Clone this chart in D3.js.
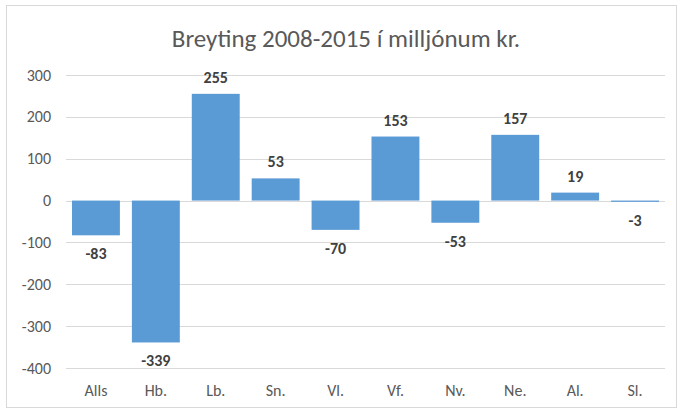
<!DOCTYPE html>
<html>
<head>
<meta charset="utf-8">
<script src="https://cdn.jsdelivr.net/npm/d3@7"></script>
<style>
  body { margin: 0; background: #fff; }
  svg { display: block; font-family: Carlito, "Open Sans", "Liberation Sans", sans-serif; }
</style>
</head>
<body>
<svg id="chart"></svg>
<script>
var categories = ['Alls', 'Hb.', 'Lb.', 'Sn.', 'Vl.', 'Vf.', 'Nv.', 'Ne.', 'Al.', 'Sl.'];
var values = [-83, -339, 255, 53, -70, 153, -53, 157, 19, -3];
var yTicks = [-400, -300, -200, -100, 0, 100, 200, 300];
var title = 'Breyting 2008-2015 í milljónum kr.';

var width = 682, height = 410;
var plotLeft = 66, plotRight = 665, plotTop = 75, plotBottom = 368;

var svg = d3.select('#chart').attr('width', width).attr('height', height);

// outer frame
svg.append('rect')
  .attr('x', 6.5).attr('y', 5.5)
  .attr('width', 670).attr('height', 402)
  .attr('fill', '#fff').attr('stroke', '#d9d9d9');

svg.append('text')
  .attr('x', 346).attr('y', 47)
  .attr('text-anchor', 'middle')
  .attr('font-size', 25)
  .attr('fill', '#595959')
  .text(title);

var x = d3.scaleBand().domain(categories).range([plotLeft, plotRight]).paddingInner(0.2).paddingOuter(0.1);
var y = d3.scaleLinear().domain([-400, 300]).range([plotBottom, plotTop]);

// gridlines
svg.append('g').selectAll('line')
  .data(yTicks)
  .enter().append('line')
  .attr('x1', plotLeft).attr('x2', plotRight)
  .attr('y1', function(d) { return Math.round(y(d)) + 0.5; })
  .attr('y2', function(d) { return Math.round(y(d)) + 0.5; })
  .attr('stroke', '#d9d9d9');

var yAxis = svg.append('g')
  .attr('transform', 'translate(' + (plotLeft - 15) + ',0)')
  .call(d3.axisLeft(y).tickValues(yTicks).tickSize(0).tickPadding(0).tickFormat(String))
  .attr('font-family', null).attr('font-size', 16);
yAxis.select('.domain').remove();
yAxis.selectAll('text').attr('fill', '#595959');

// bars
var bar = svg.append('g').selectAll('g')
  .data(values)
  .enter().append('g');

bar.append('rect')
  .attr('x', function(d, i) { return x(categories[i]); })
  .attr('width', x.bandwidth())
  .attr('y', function(d) { return y(Math.max(0, d)); })
  .attr('height', function(d) { return Math.abs(y(d) - y(0)); })
  .attr('fill', '#5b9bd5');

bar.append('text')
  .attr('x', function(d, i) { return x(categories[i]) + x.bandwidth() / 2; })
  .attr('y', function(d) { return d >= 0 ? y(d) - 11 : y(d) + 24; })
  .attr('text-anchor', 'middle')
  .attr('font-size', 16)
  .attr('font-weight', 'bold')
  .attr('fill', '#404040')
  .text(function(d) { return d; });

// category labels
var xAxis = svg.append('g')
  .attr('transform', 'translate(0,396)')
  .call(d3.axisBottom(x).tickSize(0).tickPadding(0))
  .attr('font-family', null).attr('font-size', 16);
xAxis.select('.domain').remove();
xAxis.selectAll('text').attr('fill', '#595959').attr('dy', 0);
</script>
</body>
</html>
